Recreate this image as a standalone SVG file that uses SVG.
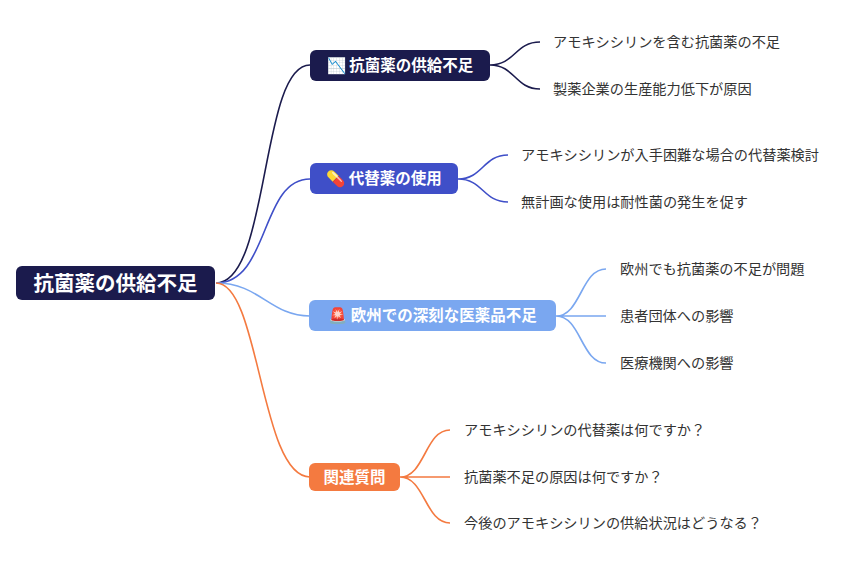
<svg xmlns="http://www.w3.org/2000/svg" width="862" height="563" viewBox="0 0 862 563">
<style>
.t{font-family:"Noto Sans CJK JP","Noto Sans",sans-serif;font-weight:bold;fill:#fff}
.l{font-family:"Noto Sans CJK JP","Noto Sans",sans-serif;font-size:14.2px;fill:#333}
.c{fill:none;stroke-width:1.6}
</style>
<rect width="862" height="563" fill="#fff"/>
<g id="connectors">
<path class="c" stroke="#1b1b4d" d="M216 283 C270 283 260 65 310 65"/>
<path class="c" stroke="#3f4fc8" d="M216 283 C270 283 260 179 310 179"/>
<path class="c" stroke="#7aa7f0" d="M216 283 C260 283 270 316 310 316"/>
<path class="c" stroke="#f47a40" d="M216 283 C260 283 260 477 310 477"/>
<path class="c" stroke="#1b1b4d" d="M490 65 C515 65 515 42 540 42 M490 65 C515 65 515 89 540 89"/>
<path class="c" stroke="#3f4fc8" d="M458 179 C483 179 483 155 508 155 M458 179 C483 179 483 202 508 202"/>
<path class="c" stroke="#7aa7f0" d="M556 316 C581 316 581 269 606 269 M556 316 L606 316 M556 316 C581 316 581 363 606 363"/>
<path class="c" stroke="#f47a40" d="M400 477 C425 477 425 430 450 430 M400 477 L450 477 M400 477 C425 477 425 523 450 523"/>
</g>
<g id="root"><rect x="16" y="266" width="199" height="34" rx="6" fill="#1b1b4d"/><text class="t" x="115.5" y="290.5" font-size="20.5" text-anchor="middle">抗菌薬の供給不足</text></g>
<g id="b1"><rect x="310" y="50" width="180" height="31" rx="6" fill="#1b1b4d"/><text class="t" x="400" y="71" font-size="15.5" text-anchor="middle">📉 抗菌薬の供給不足</text></g>
<g id="b2"><rect x="310" y="163" width="148" height="31" rx="6" fill="#3f4fc8"/><text class="t" x="384" y="184" font-size="15.5" text-anchor="middle">💊 代替薬の使用</text></g>
<g id="b3"><rect x="309" y="300" width="247" height="31" rx="6" fill="#7aa7f0"/><text class="t" x="432.5" y="321" font-size="15.5" text-anchor="middle">🚨 欧州での深刻な医薬品不足</text></g>
<g id="b4"><rect x="309" y="463" width="91" height="28" rx="6" fill="#f47a40"/><text class="t" x="354.5" y="482.5" font-size="15.5" text-anchor="middle">関連質問</text></g>
<g id="leaves">
<text class="l" x="553" y="47">アモキシシリンを含む抗菌薬の不足</text>
<text class="l" x="553" y="94">製薬企業の生産能力低下が原因</text>
<text class="l" x="521" y="160">アモキシシリンが入手困難な場合の代替薬検討</text>
<text class="l" x="521" y="207">無計画な使用は耐性菌の発生を促す</text>
<text class="l" x="620" y="274">欧州でも抗菌薬の不足が問題</text>
<text class="l" x="620" y="321">患者団体への影響</text>
<text class="l" x="620" y="368">医療機関への影響</text>
<text class="l" x="464" y="435">アモキシシリンの代替薬は何ですか？</text>
<text class="l" x="464" y="482">抗菌薬不足の原因は何ですか？</text>
<text class="l" x="464" y="528">今後のアモキシシリンの供給状況はどうなる？</text>
</g>
</svg>
